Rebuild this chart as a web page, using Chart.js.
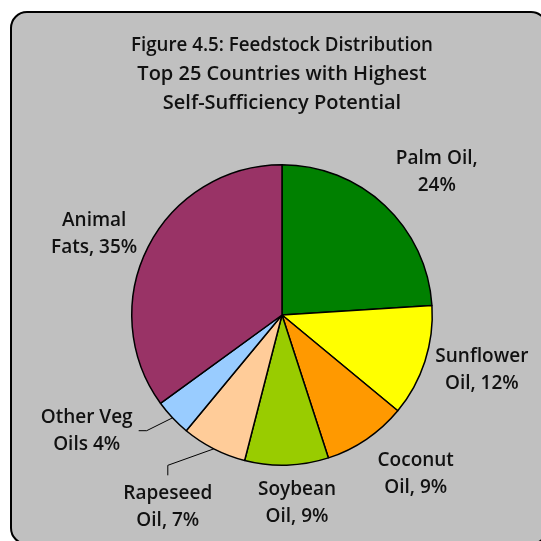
<!DOCTYPE html>
<html lang="en">
<head>
    <meta charset="UTF-8">
    <title>Feedstock Distribution</title>
    <script src="https://cdn.jsdelivr.net/npm/chart.js@4.4.1/dist/chart.umd.min.js"></script>
    <style>
        html, body {
            margin: 0;
            background: #ffffff;
            overflow: hidden;
        }

        #pie {
            display: block;
        }
    </style>
</head>
<body>
    <canvas id="pie" width="541" height="541"></canvas>

<script>
const categories = ["Palm Oil", "Sunflower Oil", "Coconut Oil", "Soybean Oil", "Rapeseed Oil", "Other Veg Oils", "Animal Fats"];
const shares = [24, 12, 9, 9, 7, 4, 35];
const sliceColors = ["#008000", "#ffff00", "#ff9900", "#99cc00", "#ffcc99", "#99ccff", "#993366"];

// label text, {v} is replaced with the slice value
const labelText = [
  ["Palm Oil,", "{v}%"],
  ["Sunflower", "Oil, {v}%"],
  ["Coconut", "Oil, {v}%"],
  ["Soybean", "Oil, {v}%"],
  ["Rapeseed", "Oil, {v}%"],
  ["Other Veg", "Oils {v}%"],
  ["Animal", "Fats, {v}%"]
];
// where each label sits, in multiples of the pie radius from its centre
const labelAt = [[1.03, -0.95], [1.33, 0.37], [0.89, 1.06], [0.10, 1.25], [-0.76, 1.28], [-1.30, 0.77], [-1.25, -0.54]];
// leader lines for the small slices: elbow, then end point (px from label centre)
const leaders = [null, null, null, null, [[0, -42], [0, -32]], [[60, 0], [52, 0]], null];

const FONT = "'Open Sans', Lato, sans-serif";

// grey rounded panel behind everything, running off the right and bottom edges
const panel = {
  id: "panel",
  beforeDraw(chart) {
    const ctx = chart.ctx;
    ctx.save();
    ctx.fillStyle = "#fff";
    ctx.fillRect(0, 0, chart.width, chart.height);
    ctx.beginPath();
    ctx.roundRect(11, 12, 536, 532, 16);
    ctx.shadowColor = "rgba(0,0,0,0.45)";
    ctx.shadowBlur = 2;
    ctx.shadowOffsetX = 1;
    ctx.shadowOffsetY = 1;
    ctx.fillStyle = "#c0c0c0";
    ctx.fill();
    ctx.shadowColor = "transparent";
    ctx.lineWidth = 2;
    ctx.strokeStyle = "#000";
    ctx.stroke();
    ctx.restore();
  }
};

const sliceLabels = {
  id: "sliceLabels",
  afterDatasetsDraw(chart) {
    const ctx = chart.ctx;
    const arcs = chart.getDatasetMeta(0).data;
    ctx.save();
    ctx.font = "600 19px " + FONT;
    ctx.fillStyle = "#111";
    ctx.textAlign = "center";
    ctx.textBaseline = "middle";
    ctx.strokeStyle = "#000";
    ctx.lineWidth = 1;
    arcs.forEach((arc, i) => {
      const p = arc.getProps(["x", "y", "outerRadius", "startAngle", "endAngle"], true);
      const lx = p.x + labelAt[i][0] * p.outerRadius;
      const ly = p.y + labelAt[i][1] * p.outerRadius;
      const lines = labelText[i].map(t => t.replace("{v}", shares[i]));
      const lh = 27;
      lines.forEach((t, k) => {
        ctx.fillText(t, lx, ly + (k - (lines.length - 1) / 2) * lh);
      });
      if (leaders[i]) {
        const mid = (p.startAngle + p.endAngle) / 2;
        ctx.beginPath();
        ctx.moveTo(p.x + Math.cos(mid) * p.outerRadius, p.y + Math.sin(mid) * p.outerRadius);
        leaders[i].forEach(pt => ctx.lineTo(lx + pt[0], ly + pt[1]));
        ctx.stroke();
      }
    });
    ctx.restore();
  }
};

new Chart("pie", {
  type: "pie",
  data: {
    labels: categories,
    datasets: [{
      data: shares,
      backgroundColor: sliceColors,
      borderColor: "#000",
      borderWidth: 1.5
    }]
  },
  options: {
    responsive: false,
    devicePixelRatio: 1,
    animation: false,
    layout: {
      padding: { top: 0, bottom: 75, left: 131, right: 108 }
    },
    plugins: {
      legend: { display: false },
      tooltip: { enabled: false },
      title: {
        display: true,
        text: ["Figure 4.5: Feedstock Distribution", "Top 25 Countries with Highest", "Self-Sufficiency Potential"],
        color: "#111",
        font: { family: FONT, size: 20, weight: "600", lineHeight: 1.45 },
        padding: { top: 30.5, bottom: 46.5 }
      }
    }
  },
  plugins: [panel, sliceLabels]
});
</script>
</body>
</html>
